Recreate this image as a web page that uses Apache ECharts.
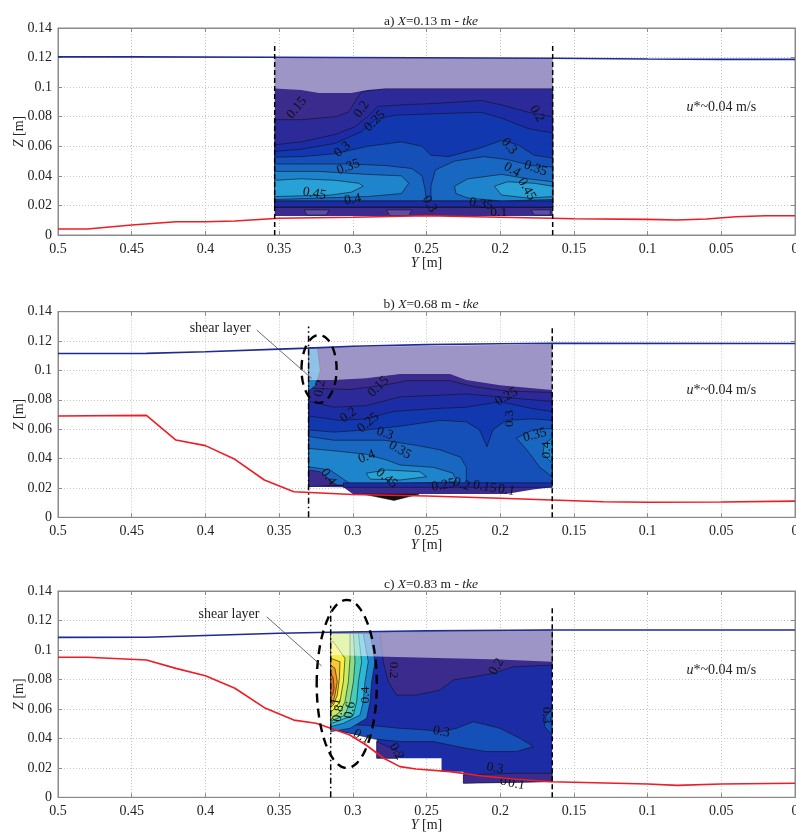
<!DOCTYPE html>
<html><head><meta charset="utf-8">
<script src="https://cdn.jsdelivr.net/npm/echarts/dist/echarts.min.js"></script>
<style>html,body{margin:0;padding:0;background:#fff}#c{width:796px;height:838px}</style>
</head><body><div id="c"></div>
<script>
// ---------------- DATA ----------------
const panelTitles = [['a)', '0.13'], ['b)', '0.68'], ['c)', '0.83']];
const ustarText = 'u*~0.04 m/s';
const ustarPos = [0.05, 0.0865];
const probeTop = 0.13;

// water surface (blue) [Y, Z]
const waterA = [[0.5,0.1205],[0.45,0.1205],[0.353,0.1202],[0.1644,0.1195],[0.1,0.119],[0.05,0.1188],[0,0.1188]];
const waterB = [[0.5,0.1115],[0.44,0.1116],[0.4,0.1127],[0.35,0.1145],[0.33,0.1152],[0.3,0.1165],[0.25,0.1176],[0.2,0.1182],[0.165,0.1184],[0,0.1183]];
const waterC = [[0.5,0.1085],[0.44,0.1086],[0.4,0.1098],[0.35,0.1113],[0.315,0.112],[0.25,0.113],[0.165,0.1135],[0,0.1135]];
// bed (red) [Y, Z]
const bedA = [[0.5,0.0041],[0.48,0.0041],[0.45,0.0068],[0.42,0.009],[0.4,0.009],[0.38,0.0095],[0.35,0.0113],[0.3,0.012],[0.25,0.013],[0.2,0.012],[0.165,0.0113],[0.15,0.011],[0.1,0.0106],[0.08,0.0101],[0.06,0.0108],[0.04,0.0123],[0.02,0.013],[0,0.013]];
const bedB = [[0.5,0.069],[0.44,0.0694],[0.42,0.0526],[0.4,0.0488],[0.38,0.0395],[0.36,0.0254],[0.34,0.0174],[0.3,0.0155],[0.25,0.0145],[0.2,0.013],[0.165,0.0118],[0.13,0.0106],[0.1,0.0102],[0.05,0.0104],[0,0.011]];
const bedC = [[0.5,0.095],[0.48,0.095],[0.44,0.0932],[0.42,0.0875],[0.4,0.0825],[0.38,0.074],[0.36,0.0608],[0.34,0.0524],[0.325,0.0502],[0.315,0.0468],[0.302,0.0423],[0.291,0.0355],[0.279,0.0265],[0.268,0.0208],[0.257,0.0192],[0.234,0.0174],[0.212,0.0145],[0.189,0.0122],[0.165,0.0106],[0.1,0.009],[0.08,0.0081],[0.05,0.009],[0,0.0095]];
// measurement section limits (dashed verticals), Y
const probesA = [0.353, 0.1644];
const probesB = [0.330, 0.1647];
const probesC = [0.315, 0.1647];

// tke contour regions: [level, polygon [[Y,Z],...]]
const baseA = [0.1, [[0.353,0.1202],[0.1644,0.1195],[0.1644,0.0129],[0.353,0.0129]]];
const bandsA = [
 [0.15,[[0.353,0.019],[0.353,0.078],[0.335,0.078],[0.312,0.080],[0.303,0.083],[0.298,0.091],[0.294,0.097],[0.278,0.099],[0.1644,0.099],[0.1644,0.019]]],
 [0.2,[[0.353,0.019],[0.353,0.061],[0.335,0.063],[0.312,0.068],[0.299,0.073],[0.290,0.080],[0.283,0.087],[0.267,0.088],[0.244,0.089],[0.213,0.091],[0.199,0.088],[0.181,0.083],[0.1644,0.080],[0.1644,0.019]]],
 [0.25,[[0.353,0.019],[0.353,0.0565],[0.335,0.058],[0.312,0.062],[0.294,0.070],[0.285,0.078],[0.272,0.081],[0.244,0.082],[0.213,0.083],[0.199,0.079],[0.181,0.072],[0.1644,0.069],[0.1644,0.019]]],
 [0.3,[[0.353,0.019],[0.353,0.0526],[0.335,0.053],[0.312,0.055],[0.290,0.060],[0.267,0.063],[0.253,0.060],[0.247,0.054],[0.235,0.053],[0.213,0.059],[0.199,0.064],[0.188,0.061],[0.177,0.054],[0.1644,0.052],[0.1644,0.019]]],
 [0.35,[[0.353,0.048],[0.335,0.048],[0.301,0.048],[0.278,0.047],[0.260,0.045],[0.253,0.040],[0.251,0.031],[0.250,0.023],[0.353,0.023]]],
 [0.35,[[0.247,0.023],[0.247,0.033],[0.244,0.044],[0.231,0.050],[0.211,0.053],[0.195,0.051],[0.179,0.047],[0.1644,0.046],[0.1644,0.023]]],
 [0.4,[[0.353,0.043],[0.323,0.043],[0.290,0.041],[0.267,0.040],[0.262,0.035],[0.267,0.028],[0.290,0.026],[0.353,0.024]]],
 [0.4,[[0.231,0.033],[0.222,0.038],[0.199,0.041],[0.181,0.038],[0.1644,0.036],[0.1644,0.024],[0.199,0.023],[0.222,0.025],[0.230,0.028]]],
 [0.45,[[0.353,0.037],[0.335,0.038],[0.312,0.037],[0.296,0.035],[0.293,0.033],[0.301,0.029],[0.315,0.027],[0.353,0.026]]],
 [0.45,[[0.204,0.033],[0.195,0.036],[0.177,0.035],[0.1644,0.033],[0.1644,0.026],[0.181,0.025],[0.199,0.027]]],
 [0.2,[[0.353,0.023],[0.1644,0.023],[0.1644,0.019],[0.353,0.019]]],
 [0.05,[[0.333,0.017],[0.316,0.017],[0.318,0.0135],[0.331,0.0135]]],
 [0.05,[[0.277,0.017],[0.260,0.017],[0.262,0.013],[0.275,0.013]]],
 [0.05,[[0.179,0.017],[0.166,0.017],[0.166,0.0135],[0.177,0.0135]]]
];
const overlayA = [[0.353,0.1202],[0.1644,0.1195],[0.1644,0.099],[0.278,0.099],[0.290,0.098],[0.301,0.096],[0.323,0.096],[0.335,0.098],[0.353,0.099]];
const labelsA = [[0.338,0.086,'0.15',50],[0.294,0.085,'0.2',55],[0.285,0.077,'0.25',45],[0.307,0.058,'0.3',40],[0.303,0.046,'0.35',20],[0.326,0.028,'0.45',-10],[0.300,0.024,'0.4',10],[0.248,0.021,'0.3',-60],[0.213,0.021,'0.35',-10],[0.201,0.015,'0.1',0],[0.175,0.082,'0.2',-60],[0.194,0.060,'0.3',-50],[0.192,0.044,'0.4',-30],[0.176,0.045,'0.35',-20],[0.182,0.031,'0.45',-60]];

const baseB = [0.1, [[0.330,0.1155],[0.1647,0.1177],[0.1647,0.0204],[0.1776,0.019],[0.196,0.0158],[0.300,0.0158],[0.3064,0.0204],[0.330,0.0208]]];
const bandsB = [
 [0.15,[[0.330,0.022],[0.330,0.088],[0.302,0.087],[0.279,0.090],[0.263,0.093],[0.234,0.093],[0.218,0.089],[0.196,0.086],[0.1647,0.085],[0.1647,0.022]]],
 [0.2,[[0.330,0.022],[0.330,0.079],[0.313,0.075],[0.291,0.076],[0.268,0.082],[0.245,0.083],[0.223,0.084],[0.200,0.082],[0.178,0.080],[0.1647,0.079],[0.1647,0.022]]],
 [0.25,[[0.330,0.022],[0.330,0.069],[0.309,0.066],[0.291,0.067],[0.273,0.072],[0.245,0.074],[0.223,0.075],[0.200,0.0787],[0.178,0.074],[0.1647,0.072],[0.1647,0.022]]],
 [0.3,[[0.330,0.022],[0.330,0.0595],[0.313,0.058],[0.291,0.0595],[0.268,0.062],[0.241,0.066],[0.223,0.065],[0.214,0.0595],[0.209,0.048],[0.205,0.0595],[0.196,0.066],[0.178,0.067],[0.1647,0.066],[0.1647,0.022]]],
 [0.35,[[0.330,0.055],[0.313,0.0525],[0.279,0.0525],[0.257,0.049],[0.241,0.046],[0.227,0.041],[0.223,0.034],[0.223,0.022],[0.330,0.022]]],
 [0.35,[[0.189,0.054],[0.178,0.0595],[0.1647,0.0605],[0.1647,0.0275],[0.173,0.034],[0.182,0.046]]],
 [0.4,[[0.1647,0.054],[0.170,0.050],[0.171,0.043],[0.1647,0.037]]],
 [0.4,[[0.330,0.0469],[0.313,0.0453],[0.291,0.043],[0.277,0.039],[0.268,0.0356],[0.245,0.034],[0.232,0.030],[0.2296,0.0242],[0.268,0.023],[0.302,0.023],[0.3155,0.0322],[0.330,0.0344]]],
 [0.45,[[0.291,0.030],[0.277,0.0322],[0.2544,0.031],[0.2499,0.0276],[0.268,0.0254],[0.2883,0.026]]],
 [0.1,[[0.330,0.0322],[0.3222,0.031],[0.311,0.0219],[0.330,0.0208]]],
 [0.2,[[0.3064,0.0235],[0.1647,0.0235],[0.1647,0.0204],[0.3064,0.0204]]],
 [0.4,[[0.330,0.1155],[0.324,0.1155],[0.322,0.100],[0.325,0.090],[0.330,0.086]]],
 [-1,[[0.293,0.0158],[0.272,0.0115],[0.255,0.0158]]]
];
const overlayB = [[0.330,0.1155],[0.1647,0.1177],[0.1647,0.0866],[0.178,0.0878],[0.200,0.090],[0.223,0.0935],[0.234,0.0975],[0.268,0.0975],[0.291,0.0946],[0.313,0.0935],[0.330,0.0935]];
const labelsB = [[0.2827,0.0889,'0.15',45],[0.303,0.0696,'0.2',35],[0.2895,0.0644,'0.25',40],[0.2782,0.0571,'0.3',-20],[0.268,0.0458,'0.35',-30],[0.2906,0.0412,'0.4',20],[0.277,0.0265,'0.45',-40],[0.3166,0.0276,'0.4',-55],[0.1957,0.0821,'0.25',30],[0.1934,0.0673,'0.3',90],[0.1765,0.056,'0.35',15],[0.1686,0.0458,'0.4',90],[0.2386,0.0219,'0.25',10],[0.2262,0.0226,'0.2',-20],[0.2104,0.0208,'0.15',-10],[0.1957,0.0185,'0.1',-10],[0.3222,0.0878,'0.2',80]];

const baseC = [0.2, [[0.315,0.112],[0.1647,0.1135],[0.1647,0.0106],[0.225,0.0095],[0.225,0.0174],[0.2398,0.0174],[0.2398,0.0265],[0.2838,0.0265],[0.2838,0.040],[0.315,0.0457]]];
const bandsC = [
 [0.1,[[0.2816,0.112],[0.1647,0.1135],[0.1647,0.0897],[0.1912,0.0886],[0.2047,0.0841],[0.2183,0.0818],[0.2318,0.0796],[0.2409,0.0728],[0.2567,0.0694],[0.2703,0.0694],[0.2759,0.0784],[0.2793,0.0920]]],
 [0.3,[[0.315,0.050],[0.285,0.0485],[0.268,0.0468],[0.2499,0.0457],[0.2409,0.0445],[0.2296,0.0468],[0.2183,0.0513],[0.2002,0.0468],[0.1866,0.0400],[0.1776,0.0344],[0.1889,0.0310],[0.2093,0.0310],[0.2228,0.0332],[0.2454,0.0378],[0.268,0.0378],[0.285,0.0395],[0.315,0.0465]]],
 [0.3,[[0.1647,0.0604],[0.169,0.055],[0.170,0.048],[0.1647,0.0422]]],
 [0.1,[[0.2838,0.0378],[0.275,0.034],[0.268,0.030],[0.270,0.0265],[0.2838,0.0265]]],
 [0.1,[[0.225,0.0095],[0.225,0.0152],[0.19,0.0163],[0.1647,0.0163],[0.1647,0.0106]]],
 [0.4,[[0.315,0.1112],[0.2883,0.1112],[0.285,0.0920],[0.2872,0.0784],[0.2883,0.0649],[0.2906,0.0536],[0.3019,0.0468],[0.315,0.0445]]],
 [0.5,[[0.315,0.1112],[0.2929,0.1112],[0.2895,0.0920],[0.2917,0.0784],[0.2929,0.0649],[0.2951,0.0558],[0.3064,0.0502],[0.315,0.0479]]],
 [0.6,[[0.315,0.1112],[0.2962,0.1112],[0.2940,0.0920],[0.2962,0.0784],[0.2974,0.0649],[0.2996,0.0558],[0.311,0.0513],[0.315,0.0502]]],
 [0.7,[[0.315,0.1112],[0.2996,0.1112],[0.2985,0.0920],[0.2996,0.0784],[0.3019,0.0649],[0.3053,0.0558],[0.3132,0.0525],[0.315,0.0513]]],
 [0.8,[[0.315,0.1112],[0.3019,0.1112],[0.3019,0.0943],[0.3030,0.0784],[0.3053,0.0649],[0.3087,0.0581],[0.3143,0.0536],[0.315,0.0525]]],
 [0.9,[[0.315,0.1056],[0.3132,0.1056],[0.3053,0.0943],[0.3064,0.0784],[0.3087,0.0649],[0.3132,0.0592],[0.315,0.0581]]],
 [1.0,[[0.315,0.0943],[0.3087,0.0920],[0.3091,0.0807],[0.3105,0.0694],[0.3132,0.0626],[0.315,0.0615]]],
 [1.1,[[0.315,0.0897],[0.3121,0.0875],[0.3105,0.0784],[0.3121,0.0694],[0.3137,0.0637],[0.315,0.0630]]],
 [1.2,[[0.315,0.0841],[0.3132,0.0807],[0.3127,0.0739],[0.3137,0.0694],[0.315,0.0680]]]
];
const overlayC = [[0.315,0.112],[0.1647,0.1135],[0.1647,0.092],[0.2002,0.0935],[0.2838,0.0955],[0.315,0.0965]];
const labelsC = [[0.2725,0.0863,'0.2',-90],[0.2025,0.0886,'0.2',60],[0.1686,0.0558,'0.3',-90],[0.2398,0.0445,'0.3',-10],[0.2036,0.0197,'0.3',-10],[0.2703,0.031,'0.2',-60],[0.294,0.0411,'0.1',-30],[0.2917,0.0694,'0.4',90],[0.3019,0.0592,'0.6',80],[0.3098,0.057,'0.8',80],[0.3114,0.0649,'1',80],[0.1979,0.0106,'0',0],[0.189,0.0088,'0.1',-10]];

// shear layer annotation: ellipse [Yc, Zc, rY, rZ], text position, leader line
const ellipseB = [0.3229, 0.101, 0.0119, 0.0231];
const ellipseC = [0.3041, 0.0769, 0.0204, 0.057];
const shearTextB = [0.390, 0.129];
const shearTextC = [0.384, 0.1244];
const leaderB = [[0.3652,0.1275],[0.3279,0.0946]];
const leaderC = [[0.3584,0.1225],[0.3211,0.0891]];

// ---------------- STYLE ----------------
const FONT = '"Liberation Serif","Times New Roman",serif';
const LEVEL_COLORS = {'-1':'#111111','0.05':'#5e4ea6','0.1':'#3b2b8c','0.15':'#2c2a98','0.2':'#1c2ca4','0.25':'#1238b0','0.3':'#1450b8','0.35':'#1868c2','0.4':'#1e84cc','0.45':'#28a2d6','0.5':'#2cb8d8','0.6':'#48cdb8','0.7':'#8cdc88','0.8':'#c8ec60','0.9':'#f6ee40','1':'#f8c830','1.1':'#f09828','1.2':'#e86c20'};
const colorOf = l => LEVEL_COLORS[String(l)] || '#1c2ca4';

const panels = [
 {t:panelTitles[0], water:waterA, bed:bedA, probes:probesA, base:baseA, bands:bandsA, overlay:overlayA, labels:labelsA, ellipse:null},
 {t:panelTitles[1], water:waterB, bed:bedB, probes:probesB, base:baseB, bands:bandsB, overlay:overlayB, labels:labelsB, ellipse:ellipseB, shearText:shearTextB, leader:leaderB, dashdot:true},
 {t:panelTitles[2], water:waterC, bed:bedC, probes:probesC, base:baseC, bands:bandsC, overlay:overlayC, labels:labelsC, ellipse:ellipseC, shearText:shearTextC, leader:leaderC, dashdot:true}
];
const gridTops = [28, 311.7, 591];
const gridHeights = [207, 205.6, 206.3];
const titleTops = [9, 292.5, 572.5];

const fmt = v => String(parseFloat(v.toFixed(3)));
const axisGray = '#8a8a8a';
const richI = {fontFamily:FONT, fontSize:14, fontStyle:'italic', fontWeight:'normal', color:'#222'};

const option = {animation:false, backgroundColor:'#fff', title:[], grid:[], xAxis:[], yAxis:[], series:[]};

panels.forEach((P, i) => {
  option.grid.push({left:58, width:737, top:gridTops[i], height:gridHeights[i], outerBoundsMode:'none', containLabel:false,
    show:true, borderColor:axisGray, borderWidth:1, backgroundColor:'transparent'});
  option.title.push({text:'{n|'+P.t[0]+' }{i|X}{n|='+P.t[1]+' m - }{i|tke}', left:426, top:titleTops[i], textAlign:'center',
    textStyle:{fontWeight:'normal', fontFamily:FONT, fontSize:13.5, color:'#222',
      rich:{n:{fontFamily:FONT,fontSize:13.5,fontWeight:'normal',color:'#222'}, i:{fontFamily:FONT,fontSize:13.5,fontStyle:'italic',fontWeight:'normal',color:'#222'}}}});
  option.xAxis.push({gridIndex:i, type:'value', min:0, max:0.5, interval:0.05, inverse:true, position:'bottom',
    axisLine:{onZero:false, lineStyle:{color:axisGray}}, axisTick:{inside:true, length:4, lineStyle:{color:axisGray}},
    axisLabel:{margin:7, color:'#222', fontFamily:FONT, fontSize:14, formatter:fmt, showMinLabel:true, showMaxLabel:true, hideOverlap:false},
    splitLine:{show:true, lineStyle:{type:[1,2], color:'#c4c4c4'}},
    name:'{i|Y} [m]', nameLocation:'middle', nameGap:21, nameMoveOverlap:false,
    nameTextStyle:{fontFamily:FONT, fontSize:14, color:'#222', rich:{i:richI}}});
  option.xAxis.push({gridIndex:i, type:'value', min:0, max:0.5, interval:0.05, inverse:true, position:'top',
    axisLine:{onZero:false, lineStyle:{color:axisGray}}, axisTick:{inside:true, length:4, lineStyle:{color:axisGray}},
    axisLabel:{show:false}, splitLine:{show:false}});
  option.yAxis.push({gridIndex:i, type:'value', min:0, max:0.14, interval:0.02, position:'left',
    axisLine:{show:true, onZero:false, lineStyle:{color:axisGray}}, axisTick:{show:true, inside:true, length:4, lineStyle:{color:axisGray}},
    axisLabel:{margin:6, color:'#222', fontFamily:FONT, fontSize:14, formatter:fmt},
    splitLine:{show:true, lineStyle:{type:[1,2], color:'#c4c4c4'}},
    name:'{i|Z} [m]', nameLocation:'middle', nameGap:32, nameRotate:90, nameMoveOverlap:false,
    nameTextStyle:{fontFamily:FONT, fontSize:14, color:'#222', rich:{i:richI}}});
  option.yAxis.push({gridIndex:i, type:'value', min:0, max:0.14, interval:0.02, position:'right',
    axisLine:{show:true, onZero:false, lineStyle:{color:axisGray}}, axisTick:{show:true, inside:true, length:4, lineStyle:{color:axisGray}},
    axisLabel:{show:false}, splitLine:{show:false}});

  const xi = i*2, yi = i*2;
  const regions = [[P.base[0], P.base[1], false]].concat(P.bands.map(b => [b[0], b[1], true]));
  option.series.push({type:'custom', coordinateSystem:'cartesian2d', xAxisIndex:xi, yAxisIndex:yi, clip:true, silent:true, z:2,
    data: regions.map((r,k)=>[k]),
    renderItem:(params, api) => {
      const r = regions[params.dataIndex];
      return {type:'polygon', shape:{points:r[1].map(p=>api.coord(p))},
        style:{fill:colorOf(r[0]), stroke:r[2] ? '#101020' : null, lineWidth:r[2] ? 0.6 : 0}};
    }});
  option.series.push({type:'custom', coordinateSystem:'cartesian2d', xAxisIndex:xi, yAxisIndex:yi, clip:true, silent:true, z:3,
    data:[[0]],
    renderItem:(params, api) => ({type:'polygon', shape:{points:P.overlay.map(p=>api.coord(p))}, style:{fill:'rgba(255,255,255,0.5)'}})});
  option.series.push({type:'custom', coordinateSystem:'cartesian2d', xAxisIndex:xi, yAxisIndex:yi, clip:false, silent:true, z:4,
    data:P.labels.map((l,k)=>[k]),
    renderItem:(params, api) => {
      const L = P.labels[params.dataIndex]; const p = api.coord([L[0], L[1]]);
      return {type:'text', x:p[0], y:p[1], rotation:L[3]*Math.PI/180,
        style:{text:L[2], fill:'#111', fontFamily:FONT, fontSize:13.5, align:'center', verticalAlign:'middle'}};
    }});
  option.series.push({type:'line', xAxisIndex:xi, yAxisIndex:yi, data:P.water, symbol:'none', silent:true, z:6,
    lineStyle:{color:'#1f2a96', width:1.6}});
  option.series.push({type:'line', xAxisIndex:xi, yAxisIndex:yi, data:P.bed, symbol:'none', silent:true, z:6,
    lineStyle:{color:'#ee1c24', width:1.6}});
  P.probes.forEach((y, k) => {
    option.series.push({type:'line', xAxisIndex:xi, yAxisIndex:yi, data:[[y,0],[y,probeTop]], symbol:'none', silent:true, z:7,
      lineStyle:{color:'#000', width:1.5, type:(P.dashdot && k===0) ? [6,3,1.5,3] : [5,3]}});
  });
  option.series.push({type:'custom', coordinateSystem:'cartesian2d', xAxisIndex:xi, yAxisIndex:yi, clip:false, silent:true, z:8,
    data:[[0]],
    renderItem:(params, api) => {
      const p = api.coord(ustarPos);
      return {type:'text', x:p[0], y:p[1], style:{text:'{i|u}{n|'+ustarText.slice(1)+'}', align:'center', verticalAlign:'middle',
        rich:{i:{fontFamily:FONT, fontSize:14, fontStyle:'italic', fill:'#222'}, n:{fontFamily:FONT, fontSize:14, fill:'#222'}}}};
    }});
  if (P.ellipse) {
    option.series.push({type:'custom', coordinateSystem:'cartesian2d', xAxisIndex:xi, yAxisIndex:yi, clip:false, silent:true, z:9,
      data:[[0]],
      renderItem:(params, api) => {
        const e = P.ellipse; const pts = [];
        for (let k=0;k<=96;k++){const t=k/96*2*Math.PI; pts.push(api.coord([e[0]+e[2]*Math.cos(t), e[1]+e[3]*Math.sin(t)]));}
        return {type:'polyline', shape:{points:pts}, style:{stroke:'#000', lineWidth:2.4, lineDash:[9,6], fill:null}};
      }});
    option.series.push({type:'line', xAxisIndex:xi, yAxisIndex:yi, data:P.leader, symbol:'none', silent:true, z:9,
      lineStyle:{color:'#444', width:0.8}});
    option.series.push({type:'custom', coordinateSystem:'cartesian2d', xAxisIndex:xi, yAxisIndex:yi, clip:false, silent:true, z:9,
      data:[[0]],
      renderItem:(params, api) => {
        const p = api.coord(P.shearText);
        return {type:'text', x:p[0], y:p[1], style:{text:'shear layer', fill:'#222', fontFamily:FONT, fontSize:14, align:'center', verticalAlign:'middle'}};
      }});
  }
});

const chart = echarts.init(document.getElementById('c'), null, {renderer:'canvas'});
chart.setOption(option);
</script></body></html>
